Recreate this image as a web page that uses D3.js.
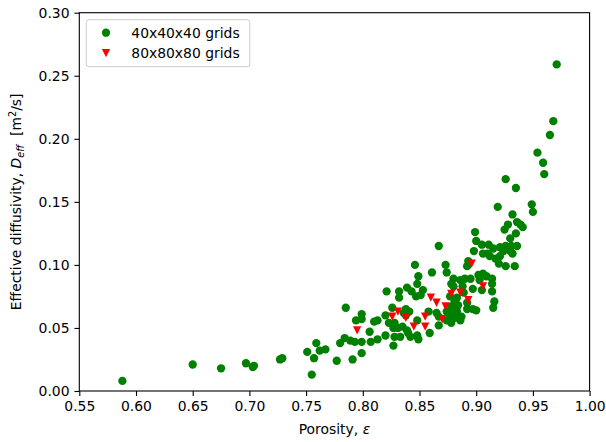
<!DOCTYPE html>
<html>
<head>
<meta charset="utf-8">
<script src="https://cdn.jsdelivr.net/npm/d3@7"></script>
<style>
  html, body { margin: 0; padding: 0; background: #fff; }
  text { font-family: "DejaVu Sans", sans-serif; fill: #000; }
</style>
</head>
<body>
<svg id="viz_area" width="606" height="442"></svg>
<script>
// 40x40x40 grid results
const porosity40 = [
  0.588, 0.650, 0.675, 0.697, 0.703, 0.704, 0.727, 0.729, 0.751, 0.759,
  0.757, 0.755, 0.762, 0.767, 0.777, 0.780, 0.785, 0.784, 0.789, 0.793,
  0.799, 0.807, 0.813, 0.791, 0.799, 0.794, 0.799, 0.799, 0.806, 0.810,
  0.813, 0.821, 0.826, 0.820, 0.823, 0.828, 0.827, 0.831, 0.820, 0.828,
  0.833, 0.827, 0.832, 0.832, 0.839, 0.843, 0.848, 0.853, 0.851, 0.847,
  0.836, 0.838, 0.838, 0.841, 0.840, 0.842, 0.848, 0.849, 0.859, 0.858,
  0.846, 0.849, 0.861, 0.867, 0.835, 0.839, 0.848, 0.867, 0.865,
  0.971, 0.968, 0.965, 0.954, 0.959, 0.960, 0.926, 0.935, 0.919, 0.949,
  0.950, 0.932, 0.928, 0.925, 0.936, 0.939, 0.941, 0.935, 0.930, 0.936,
  0.899, 0.900, 0.905, 0.911, 0.915, 0.921, 0.926, 0.931, 0.898, 0.906,
  0.924, 0.930, 0.932, 0.910, 0.912, 0.917, 0.920, 0.921, 0.926, 0.934,
  0.873, 0.874, 0.893, 0.892, 0.880, 0.878, 0.886, 0.890, 0.895, 0.902,
  0.906, 0.909, 0.903, 0.914, 0.914, 0.914, 0.897, 0.905, 0.888, 0.880,
  0.889, 0.883, 0.877, 0.881, 0.884, 0.892, 0.900, 0.892, 0.897, 0.916,
  0.915, 0.874, 0.878, 0.880, 0.881, 0.877, 0.886, 0.874, 0.878, 0.887,
  0.883, 0.867
]
const diffusivity40 = [
  0.008, 0.021, 0.018, 0.022, 0.019, 0.020, 0.025, 0.026, 0.031, 0.038,
  0.026, 0.013, 0.032, 0.033, 0.024, 0.038, 0.066, 0.042, 0.040, 0.039,
  0.039, 0.039, 0.041, 0.025, 0.030, 0.056, 0.057, 0.061, 0.047, 0.055,
  0.056, 0.079, 0.066, 0.060, 0.054, 0.054, 0.050, 0.050, 0.044, 0.043,
  0.043, 0.036, 0.079, 0.074, 0.082, 0.079, 0.085, 0.080, 0.076, 0.075,
  0.062, 0.060, 0.065, 0.063, 0.046, 0.043, 0.044, 0.041, 0.046, 0.063,
  0.100, 0.091, 0.094, 0.115, 0.051, 0.048, 0.056, 0.052, 0.062,
  0.259, 0.214, 0.203, 0.189, 0.181, 0.172, 0.168, 0.161, 0.146, 0.148,
  0.142, 0.140, 0.132, 0.128, 0.134, 0.132, 0.130, 0.125, 0.121, 0.115,
  0.126, 0.119, 0.116, 0.116, 0.113, 0.114, 0.115, 0.115, 0.111, 0.109,
  0.111, 0.111, 0.109, 0.109, 0.107, 0.105, 0.101, 0.107, 0.099, 0.099,
  0.100, 0.094, 0.103, 0.099, 0.089, 0.085, 0.088, 0.089, 0.089, 0.092,
  0.093, 0.091, 0.088, 0.089, 0.085, 0.079, 0.081, 0.080, 0.083, 0.083,
  0.078, 0.074, 0.075, 0.071, 0.068, 0.070, 0.064, 0.065, 0.065, 0.071,
  0.066, 0.063, 0.067, 0.062, 0.058, 0.059, 0.056, 0.056, 0.054, 0.059,
  0.063, 0.059
]

// 80x80x80 grid results
const porosity80 = [
  0.795, 0.826, 0.831, 0.838, 0.845, 0.855, 0.855, 0.860, 0.865, 0.870,
  0.873, 0.878, 0.886, 0.893, 0.896, 0.906
]
const diffusivity80 = [
  0.048, 0.059, 0.063, 0.058, 0.051, 0.059, 0.051, 0.074, 0.070, 0.057,
  0.067, 0.077, 0.078, 0.072, 0.101, 0.083
]

const seriesLabels = ['40x40x40 grids', '80x80x80 grids']
const xTicks = [0.55, 0.60, 0.65, 0.70, 0.75, 0.80, 0.85, 0.90, 0.95, 1.00]
const yTicks = [0.00, 0.05, 0.10, 0.15, 0.20, 0.25, 0.30]

const margin = {
  top: 12.7,
  right: 16.4,
  bottom: 51,
  left: 79.3
}

const svgSize = { width: 606, height: 442 }
const graphSize = {
  width: svgSize.width - margin.left - margin.right,
  height: svgSize.height - margin.top - margin.bottom
}

const fontSize = 13.9
const markerR = 4.15

function triangleDown(r) {
  const p = d3.path()
  p.moveTo(-r, -r)
  p.lineTo(r, -r)
  p.lineTo(0, r)
  p.closePath()
  return p.toString()
}

const svg = d3.select('#viz_area')
const g = svg.append('g')
  .attr('transform', 'translate(' + margin.left + ',' + margin.top + ')')

const xScale = d3.scaleLinear()
  .domain([0.55, 1.0])
  .range([0, graphSize.width])

const yScale = d3.scaleLinear()
  .domain([0, 0.30])
  .range([graphSize.height, 0])

// axes
const xAxis = g.append('g')
  .attr('class', 'x axis')
  .attr('transform', 'translate(0,' + graphSize.height + ')')
  .call(d3.axisBottom(xScale)
    .tickValues(xTicks)
    .tickFormat(d3.format('.2f'))
    .tickSize(4.9)
    .tickPadding(4.9)
    .tickSizeOuter(0))

const yAxis = g.append('g')
  .attr('class', 'y axis')
  .call(d3.axisLeft(yScale)
    .tickValues(yTicks)
    .tickFormat(d3.format('.2f'))
    .tickSize(4.9)
    .tickPadding(4.9)
    .tickSizeOuter(0))

g.selectAll('.axis .domain').remove()
g.selectAll('.axis line').attr('stroke', '#000').attr('stroke-width', 1.1)
g.selectAll('.axis text')
  .style('font-family', '"DejaVu Sans", sans-serif')
  .style('font-size', fontSize + 'px')
  .attr('fill', '#000')

// frame (spines)
g.append('rect')
  .attr('x', 0)
  .attr('y', 0)
  .attr('width', graphSize.width)
  .attr('height', graphSize.height)
  .attr('fill', 'none')
  .attr('stroke', '#000')
  .attr('stroke-width', 1.1)

// points
const clip = g.append('clipPath').attr('id', 'plot-clip')
clip.append('rect').attr('width', graphSize.width).attr('height', graphSize.height)

const pts = g.append('g').attr('clip-path', 'url(#plot-clip)')

pts.selectAll('circle')
  .data(d3.zip(porosity40, diffusivity40))
  .enter()
  .append('circle')
  .attr('cx', function (d) { return xScale(d[0]) })
  .attr('cy', function (d) { return yScale(d[1]) })
  .attr('r', markerR)
  .attr('fill', 'green')

pts.selectAll('path.tri')
  .data(d3.zip(porosity80, diffusivity80))
  .enter()
  .append('path')
  .attr('class', 'tri')
  .attr('d', triangleDown(markerR))
  .attr('transform', function (d) { return 'translate(' + xScale(d[0]) + ',' + yScale(d[1]) + ')' })
  .attr('fill', 'red')

// legend
const legend = g.append('g').attr('transform', 'translate(7,7)')
legend.append('rect')
  .attr('width', 163.5)
  .attr('height', 47)
  .attr('rx', 2.8)
  .attr('fill', 'white')
  .attr('fill-opacity', 0.8)
  .attr('stroke', '#cccccc')
  .attr('stroke-width', 1)

const rows = legend.selectAll('g.row')
  .data(seriesLabels)
  .enter()
  .append('g')
  .attr('class', 'row')
  .attr('transform', function (d, i) { return 'translate(0,' + (13 + i * 20.4) + ')' })

rows.each(function (d, i) {
  const row = d3.select(this)
  if (i === 0) {
    row.append('circle').attr('cx', 19.7).attr('cy', 0).attr('r', markerR).attr('fill', 'green')
  } else {
    row.append('path').attr('d', triangleDown(markerR))
      .attr('transform', 'translate(19.7,0)').attr('fill', 'red')
  }
  row.append('text')
    .attr('x', 45)
    .attr('dy', '0.36em')
    .style('font-size', fontSize + 'px')
    .text(d)
})

// axis labels
svg.append('text')
  .attr('x', margin.left + graphSize.width / 2)
  .attr('y', 434)
  .attr('text-anchor', 'middle')
  .style('font-size', fontSize + 'px')
  .call(function (t) {
    t.append('tspan').text('Porosity, ')
    t.append('tspan').style('font-style', 'italic').text('ε')
  })

svg.append('text')
  .attr('transform', 'translate(21,' + (margin.top + graphSize.height / 2) + ') rotate(-90)')
  .attr('text-anchor', 'middle')
  .style('font-size', fontSize + 'px')
  .style('white-space', 'pre')
  .call(function (t) {
    t.append('tspan').text('Effective diffusivity, ')
    t.append('tspan').style('font-style', 'italic').text('D')
    t.append('tspan').style('font-style', 'italic').style('font-size', '9.7px').attr('dy', 3).text('eff')
    t.append('tspan').attr('dy', -3).text('  [m')
    t.append('tspan').style('font-size', '9.7px').attr('dy', -5.5).text('2')
    t.append('tspan').attr('dy', 5.5).text('/s]')
  })
</script>
</body>
</html>
